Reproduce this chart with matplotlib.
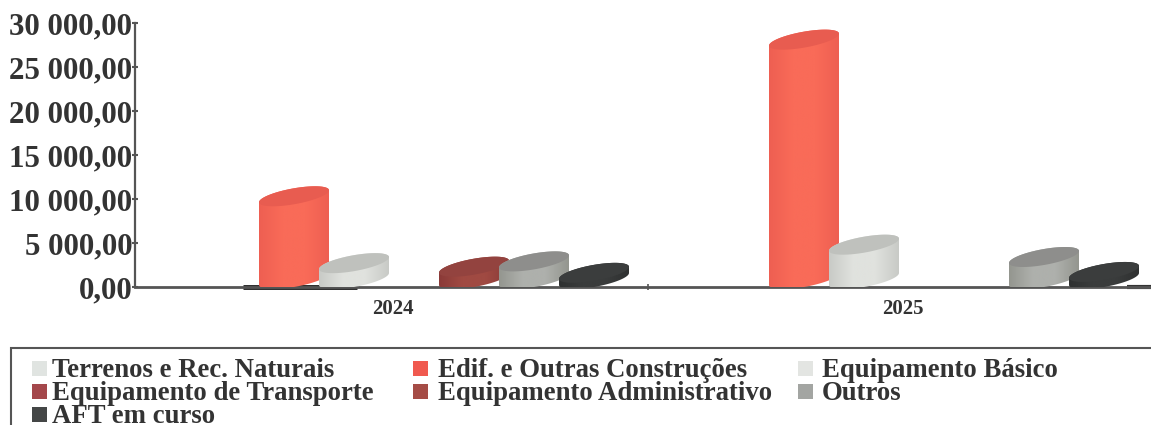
import numpy as np
import matplotlib
matplotlib.use("Agg")
import matplotlib.pyplot as plt
from matplotlib.colors import LinearSegmentedColormap
from matplotlib.patches import Polygon, Rectangle

plt.rcParams['font.family'] = ['Liberation Serif', 'DejaVu Serif']
plt.rcParams['font.weight'] = 'bold'

years = ['2024', '2025']
series = ['Terrenos e Rec. Naturais', 'Edif. e Outras Construções', 'Equipamento Básico',
          'Equipamento de Transporte', 'Equipamento Administrativo', 'Outros', 'AFT em curso']
terrenos = [0, 0]
edif = [9400, 27200]
basico = [1800, 3900]
transporte = [0, 0]
administrativo = [1400, 0]
outros = [2000, 2500]
aft = [700, 800]
values = [terrenos, edif, basico, transporte, administrativo, outros, aft]

# edge, middle, top colour for every series
edge_col = ['#dfe3e0', '#ee5f52', '#c8cac6', '#8f3f40', '#8a3a38', '#94968f', '#2f3131']
mid_col = ['#e8ebe8', '#f96b58', '#e0e2de', '#a8474a', '#a04a42', '#aeb0ac', '#3a3c3c']
top_col = ['#d5d8d5', '#e85c50', '#bfc1bd', '#94403f', '#93433f', '#8e8e8c', '#3b3d3d']
swatch_col = ['#e0e4e1', '#f0594f', '#e3e5e2', '#a4474b', '#a54c46', '#a3a5a2', '#444646']

ticks = [0, 5000, 10000, 15000, 20000, 25000, 30000]
tick_labels = ['0,00', '5 000,00', '10 000,00', '15 000,00', '20 000,00', '25 000,00', '30 000,00']

W, H = 1151, 425
fig = plt.figure(figsize=(W / 100, H / 100), dpi=100)
ax = fig.add_axes([135 / W, 1 - 287 / H, (1158 - 135) / W, (287 - 23) / H])
px_x = 2 / 1020
px_y = 30000 / (287 - 23)
ax.set_xlim(-3 * px_x, 2)
ax.set_ylim(0, 30000)

half_w = 35 * px_x
skew = 6 * px_y
b = 8 * px_y
lift = 8 * px_y
slot = 60 * px_x
t = np.linspace(0, 2 * np.pi, 121)


def ring(cx, cy, tt):
    return np.column_stack([cx + half_w * np.cos(tt), cy + b * np.sin(tt) + skew * np.cos(tt)])


for i, yr in enumerate(years):
    c = i + 0.5
    for k, vals in enumerate(values):
        v = vals[i]
        if v <= 0:
            continue
        cx = c + (k - 3 + 0.35) * slot
        z = 3 + k
        # body: lower half of the base ring joined to upper half of the top ring
        low = ring(cx, lift, np.linspace(np.pi, 2 * np.pi, 60))
        up = ring(cx, lift + v, np.linspace(0, np.pi, 60))
        verts = np.vstack([low, up, low[:1]])
        outline = Polygon(verts, closed=True, facecolor='none', edgecolor='none', zorder=z)
        ax.add_patch(outline)
        cmap = LinearSegmentedColormap.from_list('b', [edge_col[k], mid_col[k], mid_col[k], edge_col[k]])
        im = ax.imshow(np.linspace(0, 1, 128)[None, :], cmap=cmap, aspect='auto', zorder=z,
                       extent=[cx - half_w, cx + half_w, verts[:, 1].min(), verts[:, 1].max()])
        im.set_clip_path(outline)
        ax.add_patch(Polygon(ring(cx, lift + v, t), closed=True, facecolor=top_col[k],
                             edgecolor='none', zorder=z + 0.5))

ax.set_xlim(-3 * px_x, 2)
ax.set_ylim(0, 30000)

# zero-height series show up as a dark strip on the axis
ax.hlines(0, 0.5 - 150 * px_x, 0.5 - 36 * px_x, color='#222222', lw=3.5, zorder=2, clip_on=False)
ax.hlines(0, 2 - 31 * px_x, 2, color='#333333', lw=3, zorder=2, clip_on=False)

for s in ['top', 'right']:
    ax.spines[s].set_visible(False)
ax.spines['left'].set_color('#555555')
ax.spines['left'].set_linewidth(1.6)
ax.spines['bottom'].set_color('#555555')
ax.spines['bottom'].set_linewidth(2)

ax.set_yticks(ticks)
ax.set_yticklabels(tick_labels, fontsize=22.2, color='#333333')
ax.tick_params(axis='y', length=4, width=1.5, color='#555555', pad=0, direction='inout')
ax.set_xticks([1])
ax.set_xticklabels([''])
ax.tick_params(axis='x', length=5, width=1.2, color='#555555', direction='inout')
for i, yr in enumerate(years):
    ax.text(i + 0.5, -2500, yr, ha='center', va='center', fontsize=15, color='#333333')

# legend box runs off the right and bottom of the picture
fig.add_artist(Rectangle((11 / W, -0.05), 1.1, 1 - 348 / H + 0.05, transform=fig.transFigure,
                         facecolor='none', edgecolor='#555555', lw=1.5))
col_x = [32, 413, 798]
text_x = [52, 438, 822]
row_y = [369, 392, 415]
for k, name in enumerate(series):
    col = k % 3
    y = row_y[k // 3]
    fig.add_artist(Rectangle((col_x[col] / W, 1 - (y + 7) / H), 15 / W, 15 / H, transform=fig.transFigure,
                             facecolor=swatch_col[k], edgecolor='none'))
    fig.text(text_x[col] / W, 1 - (y + 8) / H, name, fontsize=19.3, va='baseline', ha='left', color='#333333')

fig.savefig('out.png', dpi=100)
